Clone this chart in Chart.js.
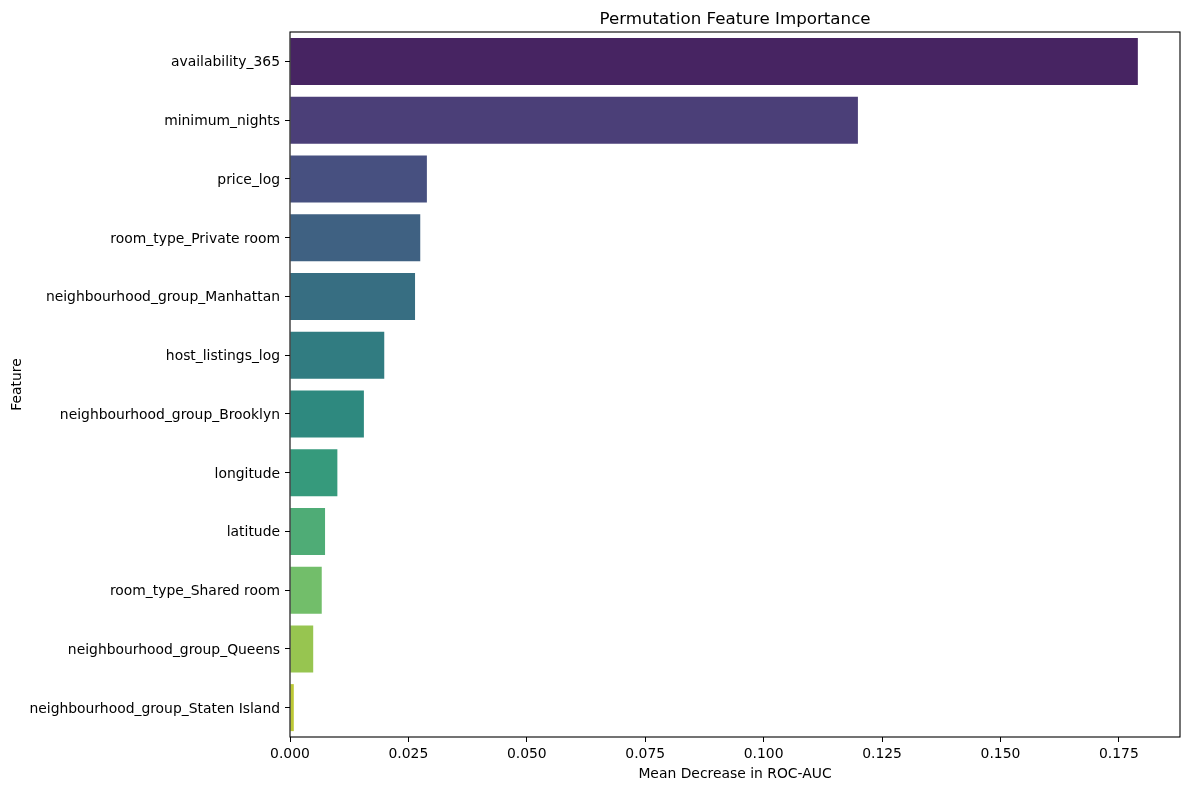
<!DOCTYPE html>
<html>
<head>
<meta charset="utf-8">
<script src="https://cdn.jsdelivr.net/npm/chart.js@4"></script>
<style>
html,body{margin:0;padding:0;background:#fff;}
#wrap{width:1189px;height:790px;}
</style>
</head>
<body>
<div id="wrap"><canvas id="c" width="1189" height="790"></canvas></div>
<script>
const features = [
  "availability_365",
  "minimum_nights",
  "price_log",
  "room_type_Private room",
  "neighbourhood_group_Manhattan",
  "host_listings_log",
  "neighbourhood_group_Brooklyn",
  "longitude",
  "latitude",
  "room_type_Shared room",
  "neighbourhood_group_Queens",
  "neighbourhood_group_Staten Island"
];
const importance = [0.1790, 0.1199, 0.0289, 0.0275, 0.0264, 0.0199, 0.0156, 0.0100, 0.0074, 0.0067, 0.0049, 0.0008];
const barColors = ["#472462","#4b3f78","#475080","#3f6182","#376e82","#317c81","#2e897f","#369a7c","#4fac76","#72be6a","#97c550","#bcc835"];
const xTicks = [0, 0.025, 0.05, 0.075, 0.1, 0.125, 0.15, 0.175];
const xMax = 0.1879;
const titleText = "Permutation Feature Importance";
const xTitle = "Mean Decrease in ROC-AUC";
const yTitle = "Feature";

const FONT = "'DejaVu Sans', sans-serif";

const frame = {
  id: 'frame',
  afterDatasetsDraw(chart) {
    const {ctx, chartArea: a} = chart;
    ctx.save();
    ctx.strokeStyle = '#000';
    ctx.lineWidth = 1.1;
    ctx.strokeRect(a.left, a.top, a.right - a.left, a.bottom - a.top);
    ctx.restore();
  },
  afterDraw(chart) {
    const {ctx, chartArea: a} = chart;
    ctx.save();
    ctx.fillStyle = '#000';
    ctx.font = "16.7px " + FONT;
    ctx.textAlign = 'center';
    ctx.textBaseline = 'middle';
    ctx.fillText(titleText, (a.left + a.right) / 2, 19.5);
    ctx.restore();
  }
};

new Chart(document.getElementById('c'), {
  type: 'bar',
  data: {
    labels: features,
    datasets: [{
      data: importance,
      backgroundColor: barColors,
      borderWidth: 0,
      categoryPercentage: 1.0,
      barPercentage: 0.8
    }]
  },
  options: {
    indexAxis: 'y',
    responsive: false,
    animation: false,
    layout: {padding: {left: 0, right: 9, top: 32, bottom: 0}},
    plugins: {
      legend: {display: false},
      tooltip: {enabled: false},
      title: {display: false}
    },
    scales: {
      x: {
        type: 'linear',
        min: 0,
        max: xMax,
        afterFit(s) { s.height = 53; },
        afterBuildTicks(s) { s.ticks = xTicks.map(v => ({value: v})); },
        border: {display: false},
        grid: {drawOnChartArea: false, drawTicks: true, tickLength: 5, color: '#000', lineWidth: 1},
        ticks: {
          includeBounds: false,
          color: '#000',
          padding: 4,
          maxRotation: 0,
          font: {family: FONT, size: 13.9},
          callback: (v) => Number(v).toFixed(3)
        },
        title: {display: true, text: xTitle, color: '#000', font: {family: FONT, size: 13.9}, padding: {top: 0, bottom: 7}}
      },
      y: {
        type: 'category',
        afterFit(s) { s.width = 290; },
        border: {display: false},
        grid: {offset: false, drawOnChartArea: false, drawTicks: true, tickLength: 5, color: '#000', lineWidth: 1},
        ticks: {color: '#000', padding: 5, labelOffset: 1.5, font: {family: FONT, size: 13.9}},
        title: {display: true, text: yTitle, color: '#000', font: {family: FONT, size: 13.9}, padding: {top: 9, bottom: 0}}
      }
    }
  },
  plugins: [frame]
});
</script>
</body>
</html>
